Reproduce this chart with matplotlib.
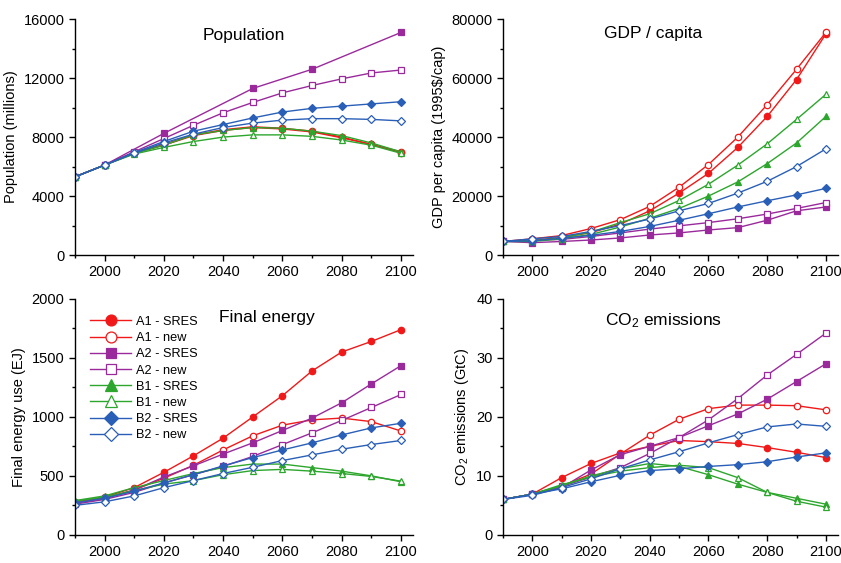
import matplotlib

matplotlib.use("Agg")
import matplotlib.pyplot as plt
from matplotlib.ticker import MultipleLocator

plt.rcParams["font.family"] = ["Liberation Sans", "DejaVu Sans"]
plt.rcParams["mathtext.default"] = "regular"

YEARS = [1990, 2000, 2010, 2020, 2030, 2040, 2050, 2060, 2070, 2080, 2090, 2100]
SCENARIOS = ["A1 - SRES", "A1 - new", "A2 - SRES", "A2 - new",
             "B1 - SRES", "B1 - new", "B2 - SRES", "B2 - new"]

# population (millions)
POP_A1_SRES = [5300, 6100, 6950, 7500, 8150, 8500, 8700, 8600, 8400, 8000, 7500, 7000]
POP_A1_NEW = [5300, 6100, 6900, 7450, 8100, 8450, 8650, 8550, 8350, 7950, 7500, 6950]
POP_A2_SRES_YEARS = [1990, 2000, 2020, 2050, 2070, 2100]
POP_A2_SRES = [5300, 6100, 8250, 11300, 12600, 15100]
POP_A2_NEW = [5300, 6100, 7000, 7900, 8800, 9650, 10350, 11000, 11500, 11950, 12350, 12550]
POP_B1_SRES = [5300, 6100, 6900, 7450, 8150, 8450, 8650, 8600, 8400, 8100, 7600, 7000]
POP_B1_NEW = [5300, 6100, 6850, 7300, 7700, 8000, 8150, 8150, 8050, 7800, 7450, 6900]
POP_B2_SRES = [5300, 6100, 6950, 7700, 8400, 8850, 9300, 9700, 9950, 10100, 10250, 10400]
POP_B2_NEW = [5300, 6100, 6900, 7600, 8200, 8650, 8950, 9150, 9250, 9250, 9200, 9100]

# GDP per capita (1995$/cap)
GDP_A1_SRES = [4600, 5000, 6000, 7600, 10500, 15000, 21000, 27700, 36500, 47000, 59500, 75000]
GDP_A1_NEW = [4600, 5500, 6600, 9000, 12000, 16500, 23000, 30700, 40000, 51000, 63000, 75500]
GDP_A2_SRES = [4600, 4200, 4600, 5100, 5800, 6800, 7500, 8500, 9300, 11800, 15000, 16300]
GDP_A2_NEW = [4600, 5000, 5300, 6300, 7500, 8800, 9900, 11000, 12300, 13900, 15800, 17800]
GDP_B1_SRES = [4600, 4600, 5500, 7000, 9500, 12500, 15800, 20000, 24800, 31000, 38000, 47000]
GDP_B1_NEW = [4600, 4800, 5800, 7800, 11000, 14000, 18500, 24000, 30500, 37700, 46000, 54500]
GDP_B2_SRES = [4600, 4800, 5700, 6700, 8000, 9700, 11800, 14000, 16300, 18400, 20400, 22600]
GDP_B2_NEW = [4600, 5500, 6300, 8000, 10000, 12200, 15000, 17500, 21000, 25000, 30000, 36000]

# final energy use (EJ)
FE_A1_SRES = [280, 320, 400, 530, 670, 820, 1000, 1180, 1390, 1550, 1640, 1740]
FE_A1_NEW = [270, 310, 380, 480, 590, 720, 840, 930, 975, 990, 960, 880]
FE_A2_SRES = [270, 310, 380, 490, 585, 685, 780, 885, 990, 1120, 1280, 1435]
FE_A2_NEW = [260, 300, 360, 440, 510, 580, 665, 765, 865, 970, 1080, 1190]
FE_B1_SRES = [290, 330, 400, 460, 520, 570, 600, 600, 570, 540, 500, 450]
FE_B1_NEW = [285, 320, 375, 430, 460, 510, 545, 555, 540, 520, 495, 455]
FE_B2_SRES = [270, 310, 370, 440, 510, 585, 655, 720, 780, 847, 907, 946]
FE_B2_NEW = [250, 280, 330, 400, 460, 520, 573, 630, 678, 726, 766, 800]

# CO2 emissions (GtC)
CO2_A1_SRES = [6.0, 6.9, 9.7, 12.1, 13.9, 15.0, 16.0, 15.8, 15.5, 14.8, 14.0, 13.1]
CO2_A1_NEW = [6.0, 6.9, 8.3, 10.3, 13.7, 16.9, 19.6, 21.4, 22.0, 22.0, 21.9, 21.2]
CO2_A2_SRES = [6.0, 6.9, 8.0, 11.0, 13.6, 15.0, 16.5, 18.5, 20.5, 23.0, 26.0, 29.0]
CO2_A2_NEW = [6.0, 6.9, 8.2, 9.8, 11.4, 13.8, 16.5, 19.5, 23.1, 27.1, 30.6, 34.2]
CO2_B1_SRES = [6.0, 6.9, 8.3, 10.0, 11.2, 12.1, 11.6, 10.2, 8.6, 7.2, 6.2, 5.2]
CO2_B1_NEW = [6.0, 6.9, 8.5, 9.8, 10.8, 11.4, 11.8, 11.4, 9.7, 7.2, 5.7, 4.7]
CO2_B2_SRES = [6.0, 6.9, 7.8, 9.0, 10.1, 10.9, 11.2, 11.6, 11.9, 12.4, 13.2, 13.9]
CO2_B2_NEW = [6.0, 6.7, 8.0, 9.5, 11.2, 12.7, 14.1, 15.6, 17.0, 18.3, 18.8, 18.4]

RED, PURPLE, GREEN, BLUE = "#f01818", "#9a2a9c", "#2ca62c", "#2a5fb8"
STYLES = [(RED, "o", True), (RED, "o", False), (PURPLE, "s", True), (PURPLE, "s", False),
          (GREEN, "^", True), (GREEN, "^", False), (BLUE, "D", True), (BLUE, "D", False)]
MSIZE = {"o": 4.6, "s": 4.2, "^": 5.0, "D": 4.2}

PANELS = [
    ("Population", "Population (millions)", 16000, 4000, 2000,
     [(YEARS, POP_A1_SRES), (YEARS, POP_A1_NEW), (POP_A2_SRES_YEARS, POP_A2_SRES),
      (YEARS, POP_A2_NEW), (YEARS, POP_B1_SRES), (YEARS, POP_B1_NEW),
      (YEARS, POP_B2_SRES), (YEARS, POP_B2_NEW)], (0.50, 0.93)),
    ("GDP / capita", "GDP per capita (1995$/cap)", 80000, 20000, 10000,
     [(YEARS, s) for s in (GDP_A1_SRES, GDP_A1_NEW, GDP_A2_SRES, GDP_A2_NEW,
                           GDP_B1_SRES, GDP_B1_NEW, GDP_B2_SRES, GDP_B2_NEW)], (0.45, 0.94)),
    ("Final energy", "Final energy use (EJ)", 2000, 500, 250,
     [(YEARS, s) for s in (FE_A1_SRES, FE_A1_NEW, FE_A2_SRES, FE_A2_NEW,
                           FE_B1_SRES, FE_B1_NEW, FE_B2_SRES, FE_B2_NEW)], (0.567, 0.92)),
    ("CO$_2$ emissions", "CO$_2$ emissions (GtC)", 40, 10, 5,
     [(YEARS, s) for s in (CO2_A1_SRES, CO2_A1_NEW, CO2_A2_SRES, CO2_A2_NEW,
                           CO2_B1_SRES, CO2_B1_NEW, CO2_B2_SRES, CO2_B2_NEW)], (0.48, 0.91)),
]

fig = plt.figure(figsize=(8.41, 5.63), dpi=100)
boxes = [(0.089, 0.547, 0.402, 0.419), (0.598, 0.547, 0.398, 0.419),
         (0.089, 0.050, 0.402, 0.419), (0.598, 0.050, 0.398, 0.419)]

for box, (title, ylabel, ymax, major, minor, series, tpos) in zip(boxes, PANELS):
    ax = fig.add_axes(box)
    for (xs, ys), (col, mk, filled), name in zip(series, STYLES, SCENARIOS):
        ax.plot(xs, ys, color=col, lw=1.0, marker=mk, ms=MSIZE[mk],
                mfc=col if filled else "white", mec=col, mew=0.9, label=name)
    ax.set_xlim(1990, 2104)
    ax.set_ylim(0, ymax)
    ax.xaxis.set_major_locator(MultipleLocator(20))
    ax.xaxis.set_minor_locator(MultipleLocator(10))
    ax.yaxis.set_major_locator(MultipleLocator(major))
    ax.yaxis.set_minor_locator(MultipleLocator(minor))
    ax.tick_params(which="both", direction="out", labelsize=10.5, width=1.0)
    ax.tick_params(which="major", length=4)
    ax.tick_params(which="minor", length=2.5)
    for side in ("top", "right"):
        ax.spines[side].set_visible(False)
    for side in ("left", "bottom"):
        ax.spines[side].set_linewidth(1.0)
    ax.set_ylabel(ylabel, fontsize=10.5)
    ax.text(tpos[0], tpos[1], title, transform=ax.transAxes, ha="center",
            va="center", fontsize=12.5)
    if title == "Final energy":
        ax.legend(loc="upper left", bbox_to_anchor=(0.03, 0.95), frameon=False,
                  fontsize=9.2, markerscale=1.7, handlelength=3.2,
                  labelspacing=0.33, handletextpad=0.4, borderaxespad=0.0)

fig.savefig("out.png", dpi=100)
